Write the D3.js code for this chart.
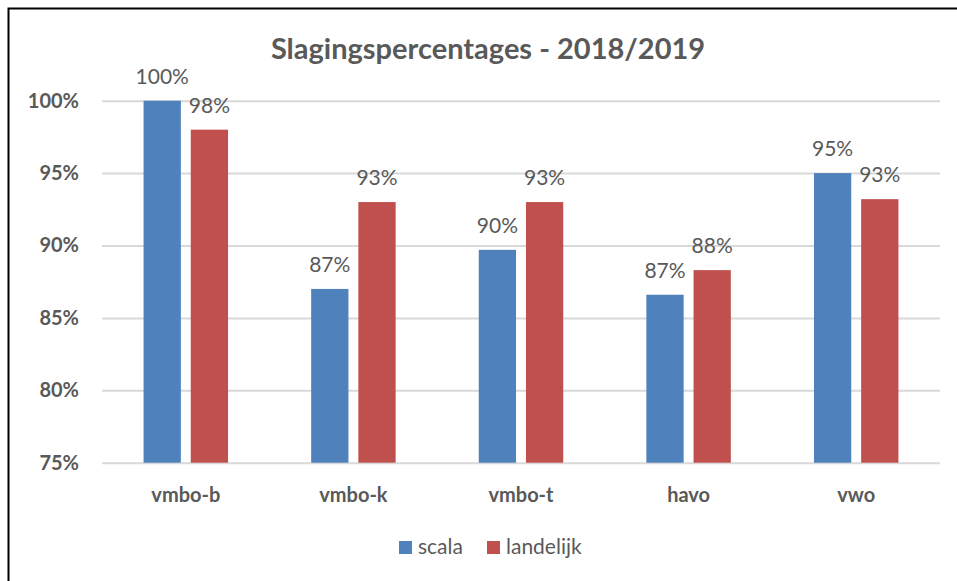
<!DOCTYPE html>
<html>
<head>
<meta charset="utf-8">
<script src="https://cdn.jsdelivr.net/npm/d3@7"></script>
<style>
  body { margin: 0; background: #fff; }
  svg text { font-family: Lato, "Noto Sans", sans-serif; fill: #595959; }
</style>
</head>
<body>
<div class="container"></div>
<script>
const categories = ['vmbo-b', 'vmbo-k', 'vmbo-t', 'havo', 'vwo'];
const seriesNames = ['scala', 'landelijk'];
const scala = [100.0, 87.0, 89.7, 86.6, 95.0];
const landelijk = [98.0, 93.0, 93.0, 88.3, 93.2];
const yTicks = [75, 80, 85, 90, 95, 100];
const colors = ['#4f81bd', '#c0504d'];

const width = 957;
const height = 581;
const plotLeft = 102;
const plotRight = 940;
const plotTop = 100.7;
const plotBottom = 462.7;

const svg = d3.select('.container')
              .append('svg')
              .attr('width', width)
              .attr('height', height)

// frame
svg.append('rect')
   .attr('x', 8.5)
   .attr('y', 8.5)
   .attr('width', 960)
   .attr('height', 600)
   .attr('fill', 'none')
   .attr('stroke', '#000')
   .attr('stroke-width', 2)

// title
svg.append('text')
   .attr('x', 488)
   .attr('y', 59)
   .attr('text-anchor', 'middle')
   .style('font-size', '29px')
   .style('font-weight', 'bold')
   .text('Slagingspercentages - 2018/2019')

const yScale = d3.scaleLinear()
                 .domain([75, 100])
                 .range([plotBottom, plotTop]);

const xScale = d3.scaleBand()
                 .domain(categories)
                 .range([plotLeft, plotRight])
                 .padding(0);

const innerScale = d3.scaleBand()
                     .domain(seriesNames)
                     .range([xScale.bandwidth() * 0.248, xScale.bandwidth() * 0.752])
                     .paddingInner(0.21)
                     .paddingOuter(0);

// gridlines + y labels
const yAxis = d3.axisLeft(yScale)
                .tickValues(yTicks)
                .tickSize(-(plotRight - plotLeft))
                .tickPadding(23)
                .tickFormat(d => d + '%');

const yG = svg.append('g')
              .attr('transform', `translate(${plotLeft},0)`)
              .call(yAxis)
yG.select('.domain').remove();
yG.selectAll('line').attr('stroke', '#d9d9d9').attr('stroke-width', 2);
yG.selectAll('text')
  .style('font-size', '20px')
  .style('font-weight', 'bold')
  .style('font-family', 'Lato, sans-serif')
  .attr('fill', '#595959')

// x labels
const xAxis = d3.axisBottom(xScale).tickSize(0).tickPadding(0);
const xG = svg.append('g')
              .attr('transform', `translate(0,${plotBottom})`)
              .call(xAxis)
xG.select('.domain').remove();
xG.selectAll('text')
  .attr('dy', null)
  .attr('y', 39)
  .style('font-size', '20px')
  .style('font-weight', 'bold')
  .style('font-family', 'Lato, sans-serif')
  .attr('fill', '#595959')

const rows = categories.map((c, i) => ({ cat: c, values: [scala[i], landelijk[i]] }));

const groups = svg.append('g')
                  .selectAll('g')
                  .data(rows)
                  .enter()
                  .append('g')
                  .attr('transform', d => `translate(${xScale(d.cat)},0)`)

groups.selectAll('rect')
      .data(d => d.values.map((v, j) => ({ key: seriesNames[j], value: v, j })))
      .enter()
      .append('rect')
      .attr('x', d => innerScale(d.key))
      .attr('y', d => yScale(d.value))
      .attr('width', innerScale.bandwidth())
      .attr('height', d => plotBottom - yScale(d.value))
      .attr('fill', d => colors[d.j])

groups.selectAll('text')
      .data(d => d.values.map((v, j) => ({ key: seriesNames[j], value: v })))
      .enter()
      .append('text')
      .attr('x', d => innerScale(d.key) + innerScale.bandwidth() / 2)
      .attr('y', d => yScale(d.value) - 17)
      .attr('text-anchor', 'middle')
      .style('font-size', '21px')
      .text(d => Math.round(d.value) + '%')

// legend
const legend = svg.append('g')
                  .attr('transform', 'translate(399,541)')
const legendX = [0, 88];
seriesNames.forEach((name, i) => {
  legend.append('rect')
        .attr('x', legendX[i])
        .attr('y', 0)
        .attr('width', 13)
        .attr('height', 13)
        .attr('fill', colors[i])
  legend.append('text')
        .attr('x', legendX[i] + 19)
        .attr('y', 13)
        .style('font-size', '21px')
        .text(name)
});
</script>
</body>
</html>
